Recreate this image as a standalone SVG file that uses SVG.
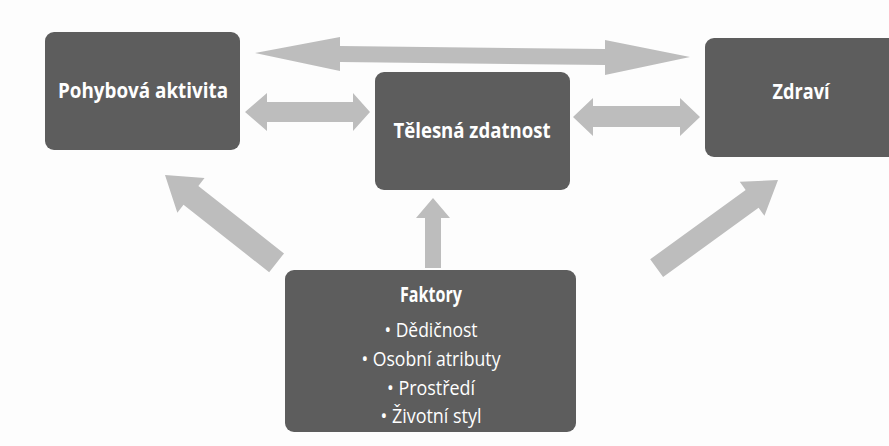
<svg xmlns="http://www.w3.org/2000/svg" width="889" height="446" viewBox="0 0 889 446">
  <style>
    .box { fill: #5d5d5d; }
    .arr { fill: #bdbdbd; }
    .t { font-family: "Open Sans", "Liberation Sans", sans-serif; fill: #ffffff; text-anchor: middle; }
    .b { font-weight: bold; font-size: 21px; }
    .r { font-weight: normal; font-size: 19.5px; }
  </style>
  <rect x="0" y="0" width="889" height="446" fill="#fdfdfd"/>
  <g id="connectors">
    <polygon class="arr" points="255,53 340,37 340,46 605,49 605,40 690,57 605,75 605,65 340,62 340,71"/>
    <polygon class="arr" points="245,112 267,93 267,102 353,102 353,93 370,112 353,131 353,122 267,122 267,131"/>
    <polygon class="arr" points="573,117 593,98 593,106 680,106 680,98 700,117 680,136 680,127 593,127 593,136"/>
    <polygon class="arr" points="-142,-12 -33,-12 -33,-22 0,0 -33,22 -33,12 -142,12" transform="translate(165,175) rotate(218.2)"/>
    <polygon class="arr" points="-150,-11 -32,-11 -32,-21 0,0 -32,21 -32,11 -150,11" transform="translate(778,180) rotate(-36)"/>
    <polygon class="arr" points="-70,-8 -20,-8 -20,-17 0,0 -20,17 -20,8 -70,8" transform="translate(433,198) rotate(-90)"/>
  </g>
  <g id="pohybova">
    <rect class="box" x="45" y="32" width="195" height="118" rx="9"/>
    <text class="t b" x="143" y="98" textLength="170" lengthAdjust="spacingAndGlyphs">Pohybová aktivita</text>
  </g>
  <g id="telesna">
    <rect class="box" x="375" y="72" width="195" height="118" rx="9"/>
    <text class="t b" x="472" y="138" textLength="157" lengthAdjust="spacingAndGlyphs">Tělesná zdatnost</text>
  </g>
  <g id="zdravi">
    <rect class="box" x="705" y="38" width="200" height="119" rx="9"/>
    <text class="t b" x="801" y="99" textLength="57" lengthAdjust="spacingAndGlyphs">Zdraví</text>
  </g>
  <g id="faktory">
    <rect class="box" x="285" y="270" width="291" height="162" rx="9"/>
    <text class="t b" x="431" y="302" textLength="62" lengthAdjust="spacingAndGlyphs">Faktory</text>
    <text class="t r" x="431" y="337" textLength="93" lengthAdjust="spacingAndGlyphs">• Dědičnost</text>
    <text class="t r" x="431" y="366" textLength="139" lengthAdjust="spacingAndGlyphs">• Osobní atributy</text>
    <text class="t r" x="431" y="395" textLength="88" lengthAdjust="spacingAndGlyphs">• Prostředí</text>
    <text class="t r" x="431" y="423" textLength="101" lengthAdjust="spacingAndGlyphs">• Životní styl</text>
  </g>
</svg>
